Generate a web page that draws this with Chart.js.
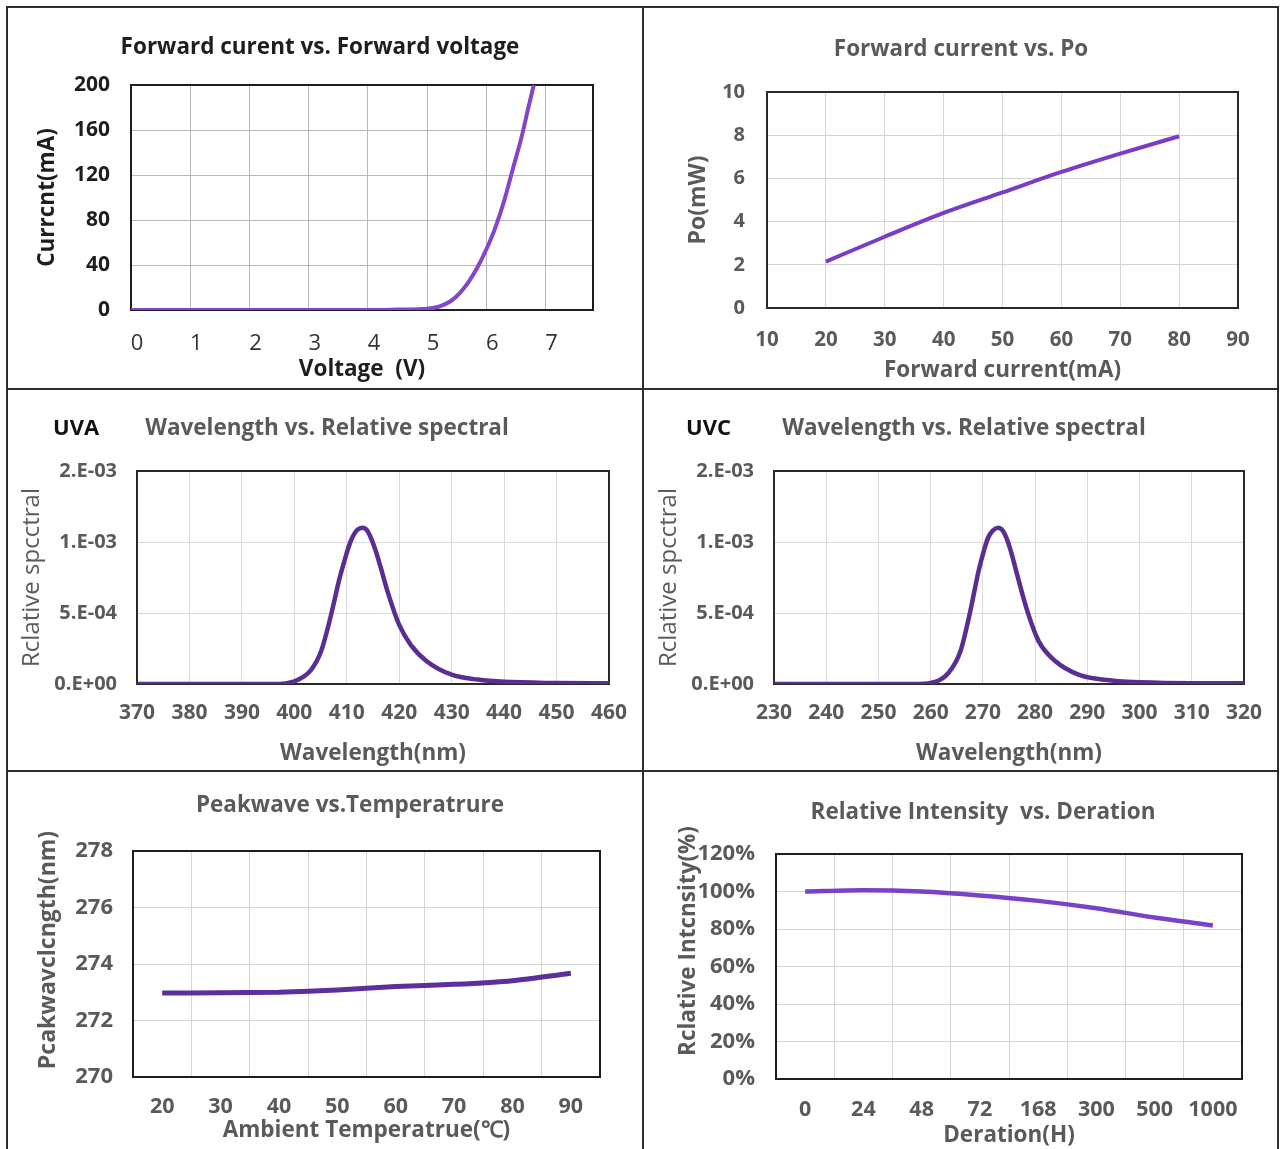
<!DOCTYPE html>
<html>
<head>
<meta charset="utf-8">
<title>UV LED characteristic curves</title>
<script src="https://cdn.jsdelivr.net/npm/chart.js@4.4.1/dist/chart.umd.min.js"></script>
<style>
  html, body { margin: 0; padding: 0; background: #fff; }
  body { width: 1280px; height: 1149px; position: relative; overflow: hidden; }
  canvas { position: absolute; }
  .rule { position: absolute; background: #2e2e2e; }
</style>
</head>
<body>
<!-- panel frame -->
<div class="rule" style="left:6px; top:6px; width:1273px; height:2px"></div>
<div class="rule" style="left:6px; top:6px; width:2px; height:1143px"></div>
<div class="rule" style="left:1277px; top:6px; width:2px; height:1143px"></div>
<div class="rule" style="left:642px; top:6px; width:2px; height:1143px"></div>
<div class="rule" style="left:6px; top:388px; width:1273px; height:2px"></div>
<div class="rule" style="left:6px; top:770px; width:1273px; height:2px"></div>

<canvas id="chart-iv"    width="636" height="383" style="left:7px;   top:7px"></canvas>
<canvas id="chart-po"    width="634" height="383" style="left:644px; top:7px"></canvas>
<canvas id="chart-uva"   width="636" height="380" style="left:7px;   top:391px"></canvas>
<canvas id="chart-uvc"   width="634" height="380" style="left:644px; top:391px"></canvas>
<canvas id="chart-temp"  width="636" height="377" style="left:7px;   top:772px"></canvas>
<canvas id="chart-life"  width="634" height="377" style="left:644px; top:772px"></canvas>

<script>
// =============================================
// Data
// =============================================
const ivVoltage = [0, 1, 2, 3, 4, 4.5, 5.0, 5.2, 5.4, 5.55, 5.7, 5.85, 6.0, 6.15, 6.3, 6.45, 6.6, 6.7, 6.8];
const ivCurrent = [0, 0, 0, 0, 0, 0.4, 1.2, 3, 8, 15, 25, 38, 54, 73, 97, 126, 155, 178, 200];

const poCurrent = [20, 30, 40, 50, 60, 70, 80];
const poPower   = [2.15, 3.3, 4.4, 5.35, 6.3, 7.15, 7.95];

const uvaWavelength = [370, 380, 390, 396, 400, 403.2, 405.1, 407, 408.6, 409.5, 410.3, 411.1, 412, 413, 413.9, 414.7, 415.5, 416.4, 417.8, 420, 422.2, 425.3, 430, 435, 440, 450, 460];
const uvaSpectral   = [0, 0, 0, 0, 1.9e-5, 1.0e-4, 2.3e-4, 4.86e-4, 7.4e-4, 8.6e-4, 9.6e-4, 1.035e-3, 1.085e-3, 1.1e-3, 1.08e-3, 1.02e-3, 9.4e-4, 8.3e-4, 6.49e-4, 4.16e-4, 2.76e-4, 1.59e-4, 6.6e-5, 3.1e-5, 1.5e-5, 7e-6, 5e-6];

const uvcWavelength = [230, 240, 250, 257, 260, 263.4, 265.7, 267.6, 269.2, 270.2, 271, 271.9, 272.9, 273.8, 274.6, 275.4, 276.2, 278.5, 280.7, 283.9, 288.3, 292.1, 296, 300, 310, 320];
const uvcSpectral   = [0, 0, 0, 0, 7e-6, 7.8e-5, 2.3e-4, 5.15e-4, 8.0e-4, 9.4e-4, 1.03e-3, 1.08e-3, 1.1e-3, 1.08e-3, 1.02e-3, 9.3e-4, 8.2e-4, 5.15e-4, 3.0e-4, 1.6e-4, 6.6e-5, 3.5e-5, 2.0e-5, 1.3e-5, 6e-6, 5e-6];

const tempLabels = ['20', '30', '40', '50', '60', '70', '80', '90'];
const peakWave   = [272.97, 272.98, 273.0, 273.08, 273.2, 273.28, 273.41, 273.67];

const hourLabels = ['0', '24', '48', '72', '168', '300', '500', '1000'];
const intensity  = [100, 100.7, 100, 97.9, 95.0, 91.1, 86.1, 81.9];

// =============================================
// Shared styling
// =============================================
const FONT  = "'Open Sans', sans-serif";
const BLACK = '#1e1e1e';
const GREY  = '#5a5a5a';

function font(size, weight) {
  return { family: FONT, size, weight: weight || 'bold' };
}

// 0.E+00 style labels, like the spreadsheet export
function sciLabel(v) {
  if (Math.abs(v) < 1e-12) return '0.E+00';
  let exp = Math.floor(Math.log10(v) + 1e-9);
  let m = Math.round(v / Math.pow(10, exp) + 1e-9);
  if (m >= 10) { m = 1; exp += 1; }
  const sign = exp < 0 ? '-' : '+';
  return `${m}.E${sign}${String(Math.abs(exp)).padStart(2, '0')}`;
}

// plot frame + free text (titles, UVA/UVC tag, offset axis titles)
const panelDecor = {
  id: 'panelDecor',
  beforeDatasetsDraw(chart, args, opts) {
    const a = chart.chartArea;
    const ctx = chart.ctx;
    ctx.save();
    ctx.strokeStyle = opts.frameColor || BLACK;
    ctx.lineWidth = 2;
    ctx.strokeRect(a.left, a.top, a.right - a.left, a.bottom - a.top);
    ctx.restore();
  },
  afterDraw(chart, args, opts) {
    const ctx = chart.ctx;
    (opts.texts || []).forEach(t => {
      ctx.save();
      ctx.font = `${t.weight || 'bold'} ${t.size}px ${FONT}`;
      ctx.fillStyle = t.color;
      ctx.textAlign = t.align || 'center';
      ctx.textBaseline = 'middle';
      ctx.translate(t.x, t.y);
      if (t.rotate) ctx.rotate(-Math.PI / 2);
      ctx.fillText(t.text, 0, 0);
      ctx.restore();
    });
  }
};
Chart.register(panelDecor);

function valueAxis(o) {
  const ticks = {
    stepSize: o.step,
    includeBounds: false,
    padding: o.pad,
    color: o.color,
    font: o.font,
    autoSkip: false,
    maxRotation: 0
  };
  if (o.labelOffset) ticks.labelOffset = o.labelOffset;
  if (o.format) ticks.callback = o.format;
  return {
    type: o.type || 'linear',
    min: o.min,
    max: o.max,
    offset: !!o.offset,
    afterFit: (s) => {
      if (o.width) s.width = o.width;
      if (o.height) s.height = o.height;
    },
    grid: { color: o.gridColor || '#d4d4d4', drawTicks: false, offset: !!o.offset },
    border: { display: false },
    ticks,
    title: {
      display: !!o.title,
      text: o.title,
      color: o.titleColor || o.color,
      font: o.titleFont,
      padding: o.titlePad
    }
  };
}

function lineDataset(xs, ys, color, width) {
  return {
    data: xs.map((x, i) => ({ x, y: ys[i] })),
    borderColor: color,
    borderWidth: width,
    pointRadius: 0,
    cubicInterpolationMode: 'monotone',
    fill: false
  };
}

function makeChart(id, cfg) {
  return new Chart(document.getElementById(id), {
    type: 'line',
    data: cfg.data,
    options: {
      responsive: false,
      animation: false,
      layout: { padding: cfg.padding },
      scales: cfg.scales,
      plugins: {
        legend: { display: false },
        tooltip: { enabled: false },
        panelDecor: cfg.decor
      }
    }
  });
}

// =============================================
// Forward current vs. forward voltage
// =============================================
makeChart('chart-iv', {
  data: { datasets: [lineDataset(ivVoltage, ivCurrent, '#8444cc', 4)] },
  padding: { top: 78, right: 50, bottom: 0, left: 0 },
  scales: {
    x: valueAxis({ min: 0, max: 7.8, step: 1, height: 80, pad: 21, labelOffset: 6,
      color: '#333', font: font(22, 'normal'), gridColor: '#b9b9b9',
      title: 'Voltage  (V)', titleColor: BLACK, titleFont: font(22.5), titlePad: { top: 0, bottom: 6.5 } }),
    y: valueAxis({ min: 0, max: 200, step: 40, width: 124, pad: 21,
      color: BLACK, font: font(21), gridColor: '#b9b9b9',
      title: 'Currcnt(mA)', titleFont: font(22.5), titlePad: { top: 27.5, bottom: 0 } })
  },
  decor: { texts: [{ text: 'Forward curent vs. Forward voltage', x: 313, y: 41, size: 22.5, color: BLACK }] }
});

// =============================================
// Forward current vs. Po
// =============================================
makeChart('chart-po', {
  data: { datasets: [lineDataset(poCurrent, poPower, '#7a3cc6', 4)] },
  padding: { top: 85, right: 40, bottom: 0, left: 0 },
  scales: {
    x: valueAxis({ min: 10, max: 90, step: 10, height: 82, pad: 20,
      color: GREY, font: font(20.5), title: 'Forward current(mA)', titleFont: font(22.5),
      titlePad: { top: 0, bottom: 6 } }),
    y: valueAxis({ min: 0, max: 10, step: 2, width: 123, pad: 22,
      color: GREY, font: font(20), title: 'Po(mW)', titleFont: font(23),
      titlePad: { top: 41, bottom: 0 } })
  },
  decor: { frameColor: '#2a2a2a',
    texts: [{ text: 'Forward current vs. Po', x: 317, y: 43, size: 22.5, color: GREY }] }
});

// =============================================
// Wavelength vs. relative spectral (UVA / UVC)
// =============================================
function spectrumChart(id, xs, ys, xMin, xMax, tag, tagX) {
  makeChart(id, {
    data: { datasets: [lineDataset(xs, ys, '#5a2d92', 4.5)] },
    padding: { top: 80, right: 31, bottom: 0, left: 0 },
    scales: {
      x: valueAxis({ min: xMin, max: xMax, step: 10, height: 87, pad: 16,
        color: GREY, font: font(21), gridColor: '#dadada', title: 'Wavelength(nm)',
        titleFont: font(22.5), titlePad: { top: 0, bottom: 3.5 } }),
      y: valueAxis({ min: 0, max: 1.5e-3, step: 5e-4, width: 130, pad: 20,
        color: GREY, font: font(20), gridColor: '#dadada', format: sciLabel,
        title: 'Rclative spcctral', titleFont: font(24, 'normal'),
        titlePad: { top: 11, bottom: 0 } })
    },
    decor: { frameColor: '#2a2a2a', texts: [
      { text: tag, x: tagX, y: 38, size: 22, color: '#111', align: 'left' },
      { text: 'Wavelength vs. Relative spectral', x: 320, y: 38, size: 22.5, color: GREY }
    ] }
  });
}

spectrumChart('chart-uva', uvaWavelength, uvaSpectral, 370, 460, 'UVA', 46);
spectrumChart('chart-uvc', uvcWavelength, uvcSpectral, 230, 320, 'UVC', 42);

// =============================================
// Peak wavelength vs. temperature
// =============================================
new Chart(document.getElementById('chart-temp'), {
  type: 'line',
  data: {
    labels: tempLabels,
    datasets: [{ data: peakWave, borderColor: '#5c2e9e', borderWidth: 5, pointRadius: 0, tension: 0.2 }]
  },
  options: {
    responsive: false,
    animation: false,
    layout: { padding: { top: 79, right: 43, bottom: 0, left: 0 } },
    scales: {
      x: valueAxis({ type: 'category', offset: true, height: 72, pad: 17,
        color: GREY, font: font(21.5), title: 'Ambient Temperatrue(\u2103)', titleFont: font(22.5),
        titlePad: { top: 0, bottom: 4.5 } }),
      y: valueAxis({ min: 270, max: 278, step: 2, width: 126, pad: 20,
        color: GREY, font: font(22) })
    },
    plugins: {
      legend: { display: false },
      tooltip: { enabled: false },
      panelDecor: { texts: [
        { text: 'Peakwave vs.Temperatrure', x: 343, y: 34, size: 22.5, color: GREY },
        { text: 'Pcakwavclcngth(nm)', x: 41, y: 178, size: 23, color: GREY, rotate: true }
      ] }
    }
  }
});

// =============================================
// Relative intensity vs. operating hours
// =============================================
new Chart(document.getElementById('chart-life'), {
  type: 'line',
  data: {
    labels: hourLabels,
    datasets: [{ data: intensity, borderColor: '#7a42c8', borderWidth: 4.5, pointRadius: 0, tension: 0.3 }]
  },
  options: {
    responsive: false,
    animation: false,
    layout: { padding: { top: 82, right: 36, bottom: 0, left: 0 } },
    scales: {
      x: valueAxis({ type: 'category', offset: true, height: 70, pad: 18,
        color: GREY, font: font(21.5), title: 'Deration(H)', titleFont: font(22.5),
        titlePad: { top: 0, bottom: 0 } }),
      y: valueAxis({ min: 0, max: 120, step: 20, width: 132, pad: 21,
        color: GREY, font: font(22), format: (v) => `${v}%` })
    },
    plugins: {
      legend: { display: false },
      tooltip: { enabled: false },
      panelDecor: { texts: [
        { text: 'Relative Intensity  vs. Deration', x: 339, y: 41, size: 22.5, color: GREY },
        { text: 'Rclative Intcnsity(%)', x: 45, y: 169, size: 22.5, color: GREY, rotate: true }
      ] }
    }
  }
});
</script>
</body>
</html>
